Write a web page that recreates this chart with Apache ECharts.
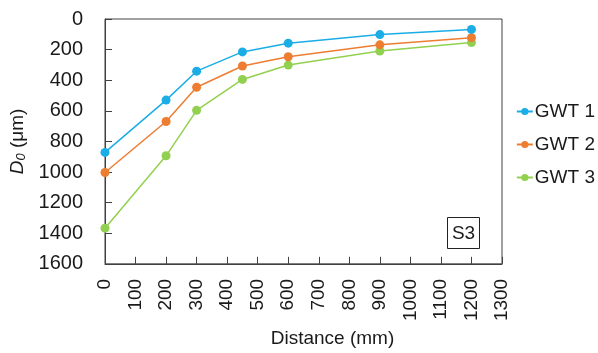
<!DOCTYPE html>
<html>
<head>
<meta charset="utf-8">
<script src="https://cdn.jsdelivr.net/npm/echarts@6/dist/echarts.min.js"></script>
<style>
  html, body { margin: 0; padding: 0; background: #fff; }
  #chart { width: 598px; height: 353px; }
</style>
</head>
<body>
<div id="chart"></div>
<script>
// Distance from the source (mm) and grain size D0 (μm) for each GWT line
const distances = [0, 200, 300, 450, 600, 900, 1200];
const gwt1 = [872, 530, 341, 215, 158, 102, 68];
const gwt2 = [1003, 670, 446, 307, 247, 169, 122];
const gwt3 = [1367, 894, 597, 395, 301, 209, 154];
const seriesNames = ['GWT 1', 'GWT 2', 'GWT 3'];
const seriesColors = ['#1AADE6', '#ED7D31', '#92D050'];
const panelLabel = 'S3';

const font = '"Liberation Sans", Arial, sans-serif';
const axisColor = '#404040';
const textColor = '#1a1a1a';

function pairs(values) {
  return distances.map((d, i) => [d, values[i]]);
}

const plain = v => String(v);

const chart = echarts.init(document.getElementById('chart'), null, { renderer: 'canvas' });

chart.setOption({
  animation: false,
  textStyle: { fontFamily: font },
  grid: {
    left: 105, top: 19, right: 96, bottom: 84,
    show: true, borderColor: axisColor, borderWidth: 1, backgroundColor: 'transparent'
  },
  legend: {
    orient: 'vertical',
    right: -2,
    top: 97,
    itemWidth: 16,
    itemHeight: 9,
    itemGap: 14,
    data: seriesNames,
    textStyle: { fontSize: 19, color: textColor, fontFamily: font, padding: [0, 0, 0, -3] }
  },
  xAxis: {
    type: 'value',
    min: 0, max: 1300, interval: 100,
    name: 'Distance (mm)',
    nameLocation: 'middle',
    nameGap: 64,
    nameTextStyle: { fontSize: 19, color: textColor, padding: [0, 0, 0, 58] },
    axisLine: { show: true, onZero: false, lineStyle: { color: axisColor, width: 1 } },
    axisTick: { show: true, inside: true, length: 7, lineStyle: { color: axisColor } },
    axisLabel: { rotate: 90, fontSize: 19, color: textColor, margin: 15, formatter: plain },
    splitLine: { show: false }
  },
  yAxis: {
    type: 'value',
    inverse: true,
    min: 0, max: 1600, interval: 200,
    name: '{it|D}{sub|0}{n| (μm)}',
    nameLocation: 'middle',
    nameRotate: 90,
    nameGap: 74,
    nameTextStyle: {
      color: textColor,
      rich: {
        it: { fontSize: 19, fontStyle: 'italic', color: textColor, fontFamily: font },
        sub: { fontSize: 13, fontStyle: 'italic', color: textColor, fontFamily: font, padding: [7, 0, 0, 0] },
        n: { fontSize: 19, color: textColor, fontFamily: font }
      }
    },
    axisLine: { show: true, onZero: false, lineStyle: { color: axisColor, width: 1 } },
    axisTick: { show: true, inside: true, length: 7, lineStyle: { color: axisColor } },
    axisLabel: { fontSize: 20, color: textColor, margin: 22, formatter: plain },
    splitLine: { show: false }
  },
  series: [gwt1, gwt2, gwt3].map((vals, i) => ({
    name: seriesNames[i],
    type: 'line',
    data: pairs(vals),
    symbol: 'circle',
    symbolSize: 9,
    color: seriesColors[i],
    lineStyle: { width: 1.5, color: seriesColors[i] },
    itemStyle: { color: seriesColors[i] },
    z: 3 - i
  })),
  graphic: [{
    type: 'group',
    left: 447, top: 217,
    children: [
      { type: 'rect', shape: { x: 0, y: 0, width: 32, height: 31 },
        style: { fill: '#fff', stroke: '#222', lineWidth: 1 } },
      { type: 'text', x: 16, y: 16,
        style: { text: panelLabel, fontSize: 19, fontFamily: font, fill: textColor,
                 align: 'center', verticalAlign: 'middle' } }
    ]
  }]
});
</script>
</body>
</html>
